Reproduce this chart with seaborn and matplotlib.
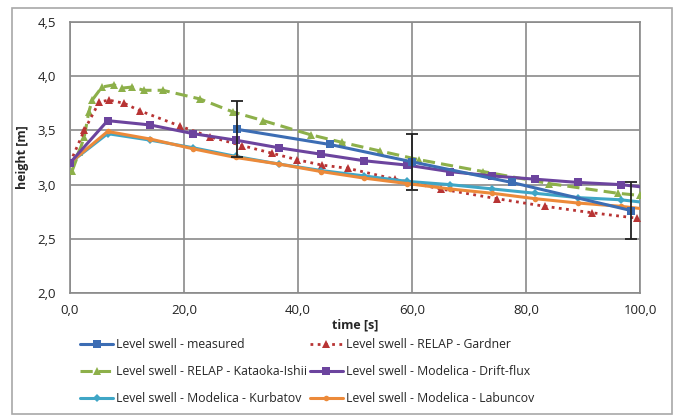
import matplotlib
matplotlib.use("Agg")
import matplotlib.pyplot as plt
import matplotlib.ticker as mticker
from matplotlib.patches import Rectangle
import seaborn as sns

# measured level swell (error bars only at some points)
measured_t = [29.3, 45.6, 60.0, 77.5, 98.5]
measured_h = [3.51, 3.37, 3.21, 3.02, 2.76]
measured_err = [0.26, 0.0, 0.26, 0.0, 0.26]

# RELAP results
gardner_t = [0, 2.5, 5.1, 6.8, 9.5, 12.3, 19.3, 24.6, 30.2, 35.4, 39.8, 44.2,
             48.8, 57.0, 65.0, 74.9, 83.3, 91.6, 99.5]
gardner_h = [3.20, 3.50, 3.76, 3.78, 3.75, 3.68, 3.54, 3.44, 3.36, 3.29, 3.23,
             3.18, 3.15, 3.05, 2.96, 2.87, 2.80, 2.74, 2.69]
kataoka_t = [0.4, 1.6, 2.5, 3.3, 3.9, 5.6, 7.7, 9.1, 10.9, 13.0, 16.3, 22.8,
             28.6, 33.9, 42.2, 47.7, 54.4, 61.2, 72.5, 84.0, 96.1, 100]
kataoka_h = [3.13, 3.30, 3.44, 3.67, 3.78, 3.90, 3.92, 3.89, 3.90, 3.87, 3.87,
             3.79, 3.67, 3.59, 3.46, 3.39, 3.31, 3.23, 3.12, 3.01, 2.92, 2.90]

# Modelica results
modelica_t = [0, 6.6, 14.1, 21.6, 29.1, 36.6, 44.1, 51.6, 59.1, 66.6, 74.1,
              81.6, 89.1, 96.6, 100]
drift_h = [3.20, 3.59, 3.55, 3.47, 3.41, 3.34, 3.28, 3.22, 3.18, 3.12, 3.08,
           3.05, 3.02, 3.00, 2.98]
kurbatov_h = [3.20, 3.47, 3.41, 3.34, 3.26, 3.19, 3.13, 3.08, 3.03, 3.00, 2.96,
              2.92, 2.88, 2.86, 2.84]
labuncov_h = [3.20, 3.49, 3.42, 3.33, 3.25, 3.19, 3.12, 3.06, 3.01, 2.96, 2.92,
              2.87, 2.83, 2.80, 2.78]

labels = [
    "Level swell - measured",
    "Level swell - RELAP - Gardner",
    "Level swell - RELAP - Kataoka-Ishii",
    "Level swell - Modelica - Drift-flux",
    "Level swell - Modelica - Kurbatov",
    "Level swell - Modelica - Labuncov",
]

sns.set_style("white")
plt.rcParams["font.family"] = ["Open Sans", "DejaVu Sans"]

fig = plt.figure(figsize=(6.8, 4.2), dpi=100)
ax = fig.add_axes([70 / 680, 1 - 293 / 420, 570 / 680, 271 / 420])

# outer chart border
fig.patches.append(Rectangle((12 / 680, 6 / 420), 660 / 680, 406 / 420,
                             transform=fig.transFigure, fill=False,
                             edgecolor="#a8a8a8", lw=1.2))

mod_every = slice(0, -1)
sns.lineplot(x=kataoka_t, y=kataoka_h, ax=ax, color="#8db04a", lw=2.2,
             linestyle=(0, (4, 2)), marker="^", markersize=6,
             markeredgewidth=0, label=labels[2], zorder=3)
sns.lineplot(x=gardner_t, y=gardner_h, ax=ax, color="#b83434", lw=2,
             linestyle=(0, (1, 1.6)), marker="^", markersize=6,
             markeredgewidth=0, label=labels[1], zorder=3)
sns.lineplot(x=modelica_t, y=kurbatov_h, ax=ax, color="#3fa6c6", lw=2.2,
             marker="D", markersize=4, markeredgewidth=0, markevery=mod_every,
             label=labels[4], zorder=4)
sns.lineplot(x=modelica_t, y=labuncov_h, ax=ax, color="#ec8a3a", lw=2.2,
             marker="o", markersize=4, markeredgewidth=0, markevery=mod_every,
             label=labels[5], zorder=4)
sns.lineplot(x=modelica_t, y=drift_h, ax=ax, color="#6c449e", lw=2.2,
             marker="s", markersize=6, markeredgewidth=0, markevery=mod_every,
             label=labels[3], zorder=5)
sns.lineplot(x=measured_t, y=measured_h, ax=ax, color="#3c6db4", lw=2.2,
             marker="s", markersize=6, markeredgewidth=0,
             label=labels[0], zorder=6)

eb = [i for i, e in enumerate(measured_err) if e > 0]
ax.errorbar([measured_t[i] for i in eb], [measured_h[i] for i in eb],
            yerr=[measured_err[i] for i in eb], fmt="none",
            ecolor="#222222", elinewidth=1.3, capsize=4, capthick=1.3, zorder=7)

ax.set_xlim(0, 100)
ax.set_ylim(2.0, 4.5)
ax.set_xticks([0, 20, 40, 60, 80, 100])
ax.set_yticks([2.0, 2.5, 3.0, 3.5, 4.0, 4.5])
comma = mticker.FuncFormatter(lambda v, p: f"{v:.1f}".replace(".", ","))
ax.xaxis.set_major_formatter(comma)
ax.yaxis.set_major_formatter(comma)
ax.tick_params(axis="both", length=0, labelsize=9.5, colors="#222222")
ax.tick_params(axis="x", pad=8)
ax.tick_params(axis="y", pad=10)
ax.grid(True, color="#8a8a8a", lw=1.2)
ax.set_axisbelow(True)
for s in ax.spines.values():
    s.set_color("#8a8a8a")
    s.set_linewidth(1.2)

ax.set_xlabel("time [s]", fontsize=9, fontweight="bold", labelpad=1)
ax.set_ylabel("height [m]", fontsize=9, fontweight="bold", labelpad=6)

# legend filled row by row, as in the reference (matplotlib fills columns)
handles, labs = ax.get_legend_handles_labels()
row_major = [labels[i] for i in (0, 2, 4, 1, 3, 5)]
order = [labs.index(l) for l in row_major]
ax.legend([handles[i] for i in order], [labs[i] for i in order],
          ncol=2, loc="upper left", bbox_to_anchor=(80 / 680, 1 - 338 / 420),
          bbox_transform=fig.transFigure, frameon=False, fontsize=8.8,
          handlelength=2.7, handletextpad=0.25, columnspacing=0.2,
          labelspacing=1.15, borderaxespad=0, borderpad=0)

fig.savefig("out.png", dpi=100)
